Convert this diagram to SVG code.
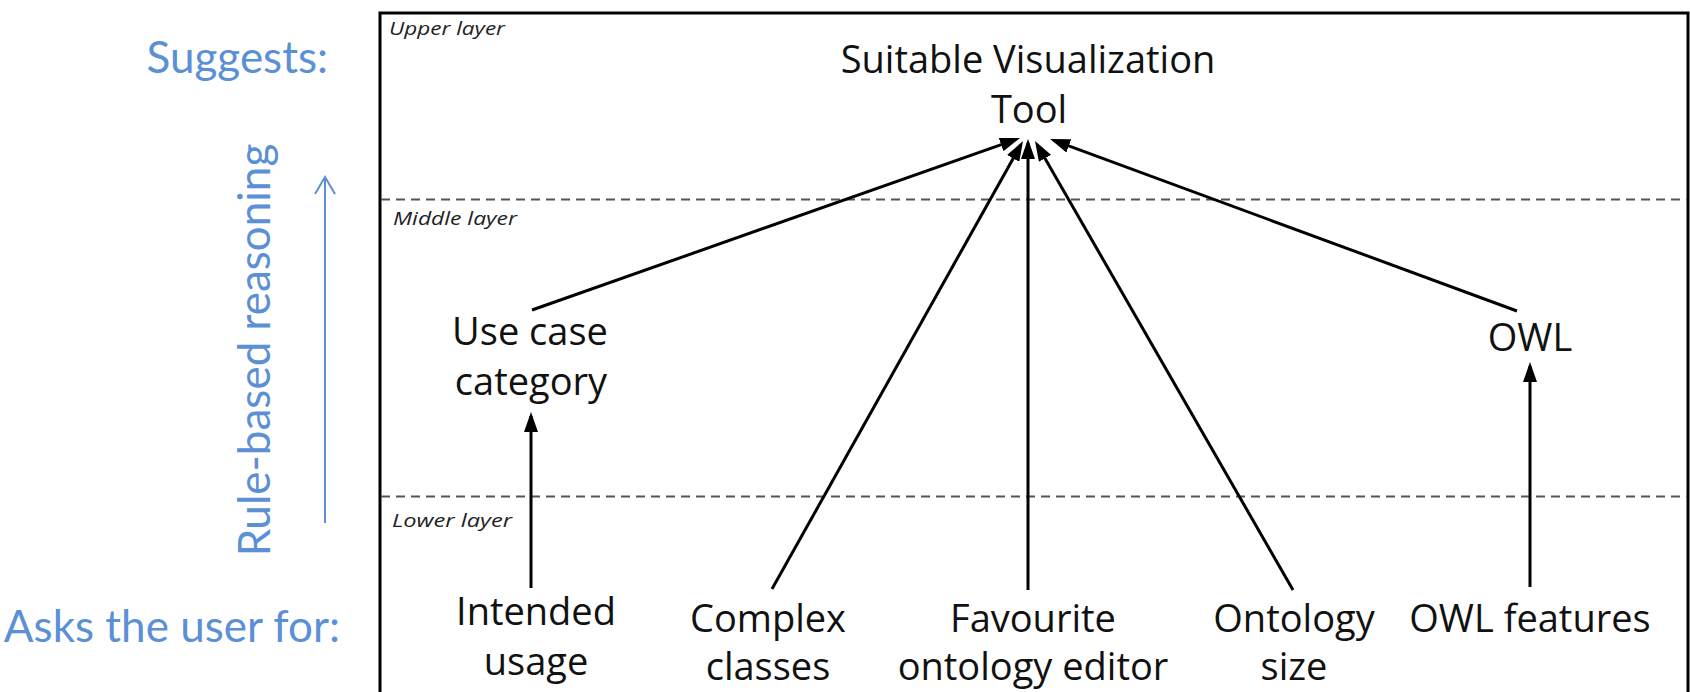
<svg xmlns="http://www.w3.org/2000/svg" width="1690" height="692" viewBox="0 0 1690 692">
<style>
.node{font-family:"Open Sans","DejaVu Sans",sans-serif;font-size:38px;fill:#111;text-anchor:middle}
.layer{font-family:"Open Sans","DejaVu Sans",sans-serif;font-size:19px;font-style:italic;fill:#222}
.side{font-family:Lato,"Liberation Sans",sans-serif;font-size:44px;fill:#5b8fd6}
.conn{stroke:#000;stroke-width:3;fill:none;marker-end:url(#ah)}
.dash{stroke:#555;stroke-width:2;stroke-dasharray:9 6;fill:none}
</style>
<defs>
<marker id="ah" markerUnits="userSpaceOnUse" markerWidth="20" markerHeight="14" refX="16" refY="7" orient="auto">
<path d="M0,0 L20,7 L0,14 z" fill="#000"/>
</marker>
</defs>
<rect width="1690" height="692" fill="#fff"/>
<g id="frame">
<rect x="380" y="13" width="1308" height="700" fill="none" stroke="#000" stroke-width="3"/>
<line class="dash" x1="381" y1="199.5" x2="1687" y2="199.5"/>
<line class="dash" x1="381" y1="496.5" x2="1687" y2="496.5"/>
<text class="layer" x="389" y="35" textLength="116" lengthAdjust="spacingAndGlyphs">Upper layer</text>
<text class="layer" x="393" y="225" textLength="124" lengthAdjust="spacingAndGlyphs">Middle layer</text>
<text class="layer" x="392" y="527" textLength="120" lengthAdjust="spacingAndGlyphs">Lower layer</text>
</g>
<g id="side-labels">
<text class="side" x="328" y="73" text-anchor="end">Suggests:</text>
<text class="side" x="340" y="642" text-anchor="end" font-size="43">Asks the user for:</text>
<text class="side" transform="translate(270,350) rotate(-90)" text-anchor="middle" font-size="45.5">Rule-based reasoning</text>
<line x1="325" y1="523" x2="325" y2="177" stroke="#5b8fd6" stroke-width="2"/>
<polyline points="315,194 325,177 335,194" fill="none" stroke="#5b8fd6" stroke-width="2"/>
</g>
<g id="connectors">
<line class="conn" x1="532" y1="310" x2="1016.2" y2="139.3"/>
<line class="conn" x1="772" y1="589" x2="1021" y2="144.5"/>
<line class="conn" x1="1028" y1="590" x2="1028" y2="143"/>
<line class="conn" x1="1293" y1="590" x2="1037" y2="144.5"/>
<line class="conn" x1="1517" y1="311" x2="1053.8" y2="140.4"/>
<line class="conn" x1="531" y1="588" x2="531" y2="416"/>
<line class="conn" x1="1530" y1="587" x2="1530" y2="366"/>
</g>
<g id="node-tool"><text class="node" x="1028" y="73">Suitable Visualization</text><text class="node" x="1029" y="123">Tool</text></g>
<g id="node-usecase"><text class="node" x="530" y="345">Use case</text><text class="node" x="531" y="395">category</text></g>
<g id="node-owl"><text class="node" x="1530" y="351">OWL</text></g>
<g id="node-intended"><text class="node" x="536" y="625">Intended</text><text class="node" x="536" y="675">usage</text></g>
<g id="node-complex"><text class="node" x="768" y="632">Complex</text><text class="node" x="768" y="680">classes</text></g>
<g id="node-favourite"><text class="node" x="1033" y="632">Favourite</text><text class="node" x="1033" y="680">ontology editor</text></g>
<g id="node-ontsize"><text class="node" x="1294" y="632">Ontology</text><text class="node" x="1294" y="680">size</text></g>
<g id="node-owlfeatures"><text class="node" x="1530" y="632">OWL features</text></g>
</svg>
